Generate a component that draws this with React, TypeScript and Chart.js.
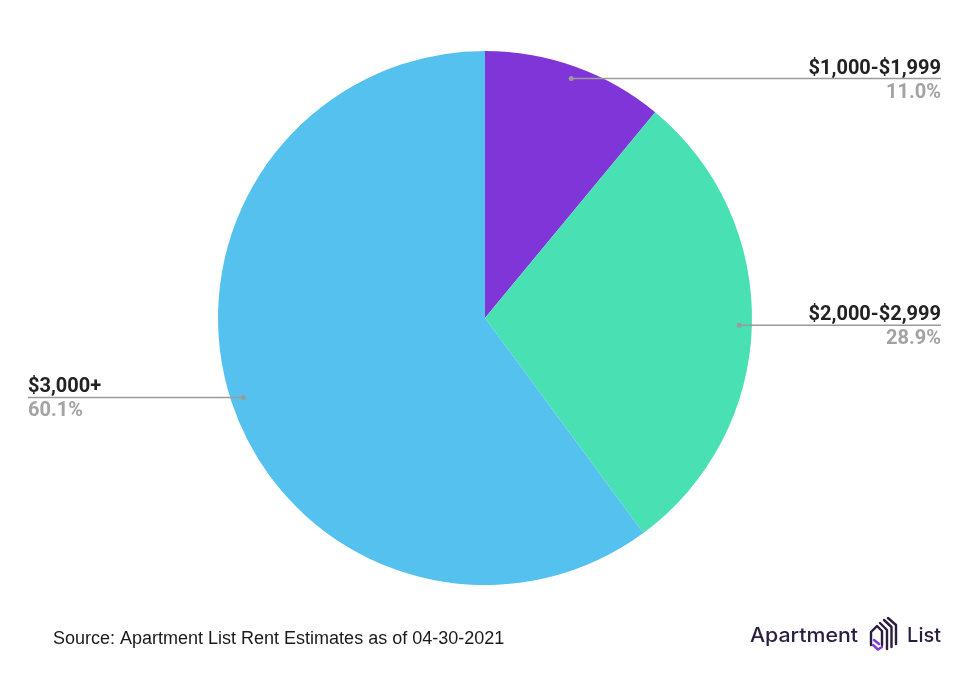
import React, { useEffect, useRef } from "react";
import { Chart, registerables } from "chart.js";

Chart.register(...registerables);

const categories = ["$1,000-$1,999", "$2,000-$2,999", "$3,000+"];
const shares = [11.0, 28.9, 60.1];
const shareLabels = ["11.0%", "28.9%", "60.1%"];
const colors = ["#8035D9", "#49E0B3", "#55C1EE"];
const sourceText = "Source: Apartment List Rent Estimates as of 04-30-2021";

const labelPlugin = {
  id: "leaderLabels",
  afterDatasetsDraw(chart: any) {
    const ctx = chart.ctx;
    const meta = chart.getDatasetMeta(0);
    meta.data.forEach((arc: any, i: number) => {
      const p = arc.getProps(["x", "y", "startAngle", "endAngle", "outerRadius"], true);
      const mid = (p.startAngle + p.endAngle) / 2;
      const r = p.outerRadius * 0.953;
      const dx = p.x + Math.cos(mid) * r;
      const dy = p.y + Math.sin(mid) * r;
      const right = Math.cos(mid) > 0;
      const endX = right ? 941 : 28;
      ctx.save();
      ctx.strokeStyle = "#9a9a9a";
      ctx.lineWidth = 1.5;
      ctx.beginPath();
      ctx.moveTo(dx, dy);
      ctx.lineTo(endX, dy);
      ctx.stroke();
      ctx.fillStyle = "#9a9a9a";
      ctx.beginPath();
      ctx.arc(dx, dy, 2.5, 0, Math.PI * 2);
      ctx.fill();
      ctx.textAlign = right ? "right" : "left";
      ctx.textBaseline = "alphabetic";
      ctx.font = "bold 20px Roboto";
      ctx.fillStyle = "#222222";
      ctx.fillText(categories[i], endX, dy - 5);
      ctx.fillStyle = "#a3a3a3";
      ctx.fillText(shareLabels[i], endX, dy + 19);
      ctx.restore();
    });
  },
  afterDraw(chart: any) {
    const ctx = chart.ctx;
    ctx.save();
    ctx.font = "18px 'Liberation Sans', Arial, sans-serif";
    ctx.fillStyle = "#1a1a1a";
    ctx.textAlign = "left";
    ctx.textBaseline = "alphabetic";
    ctx.fillText(sourceText, 53, 644);
    // logo
    ctx.fillStyle = "#2b1d3f";
    ctx.font = "500 20px Inter, 'Noto Sans', sans-serif";
    const aw = ctx.measureText("Apartment").width;
    ctx.save();
    ctx.translate(750, 642);
    ctx.scale(108 / aw, 1);
    ctx.fillText("Apartment", 0, 0);
    ctx.restore();
    ctx.textAlign = "right";
    ctx.fillText("List", 941, 642);
    // icon
    ctx.lineWidth = 2.4;
    ctx.lineCap = "round";
    ctx.lineJoin = "round";
    ctx.strokeStyle = "#2b1d3f";
    ctx.beginPath();
    ctx.moveTo(871, 645);
    ctx.lineTo(871, 632);
    ctx.lineTo(877, 626);
    ctx.lineTo(882, 631);
    ctx.lineTo(882, 645);
    ctx.stroke();
    ctx.beginPath();
    ctx.moveTo(880, 623);
    ctx.lineTo(887, 630);
    ctx.lineTo(887, 649);
    ctx.stroke();
    ctx.beginPath();
    ctx.moveTo(884, 620);
    ctx.lineTo(891.5, 627);
    ctx.lineTo(891.5, 647);
    ctx.stroke();
    ctx.beginPath();
    ctx.moveTo(888, 618);
    ctx.lineTo(896, 625);
    ctx.lineTo(896, 644);
    ctx.stroke();
    ctx.strokeStyle = "#7f3ad9";
    ctx.beginPath();
    ctx.moveTo(873, 645);
    ctx.lineTo(878, 649.5);
    ctx.lineTo(882, 647);
    ctx.stroke();
    ctx.beginPath();
    ctx.moveTo(874, 640);
    ctx.lineTo(879, 644);
    ctx.stroke();
    ctx.restore();
  },
};

export default function App() {
  const ref = useRef<HTMLCanvasElement | null>(null);
  useEffect(() => {
    if (!ref.current) return;
    const chart = new Chart(ref.current, {
      type: "pie",
      data: {
        labels: categories,
        datasets: [
          {
            data: shares,
            backgroundColor: colors,
            borderWidth: 0,
          },
        ],
      },
      options: {
        animation: false,
        responsive: false,
        maintainAspectRatio: false,
        layout: { padding: { left: 218, right: 228, top: 51, bottom: 111 } },
        plugins: {
          legend: { display: false },
          tooltip: { enabled: false },
        },
      },
      plugins: [labelPlugin],
    });
    return () => chart.destroy();
  }, []);
  return (
    <div style={{ position: "fixed", left: 0, top: 0, width: 980, height: 696, background: "#fff" }}>
      <canvas ref={ref} width={980} height={696} style={{ width: 980, height: 696 }} />
    </div>
  );
}
